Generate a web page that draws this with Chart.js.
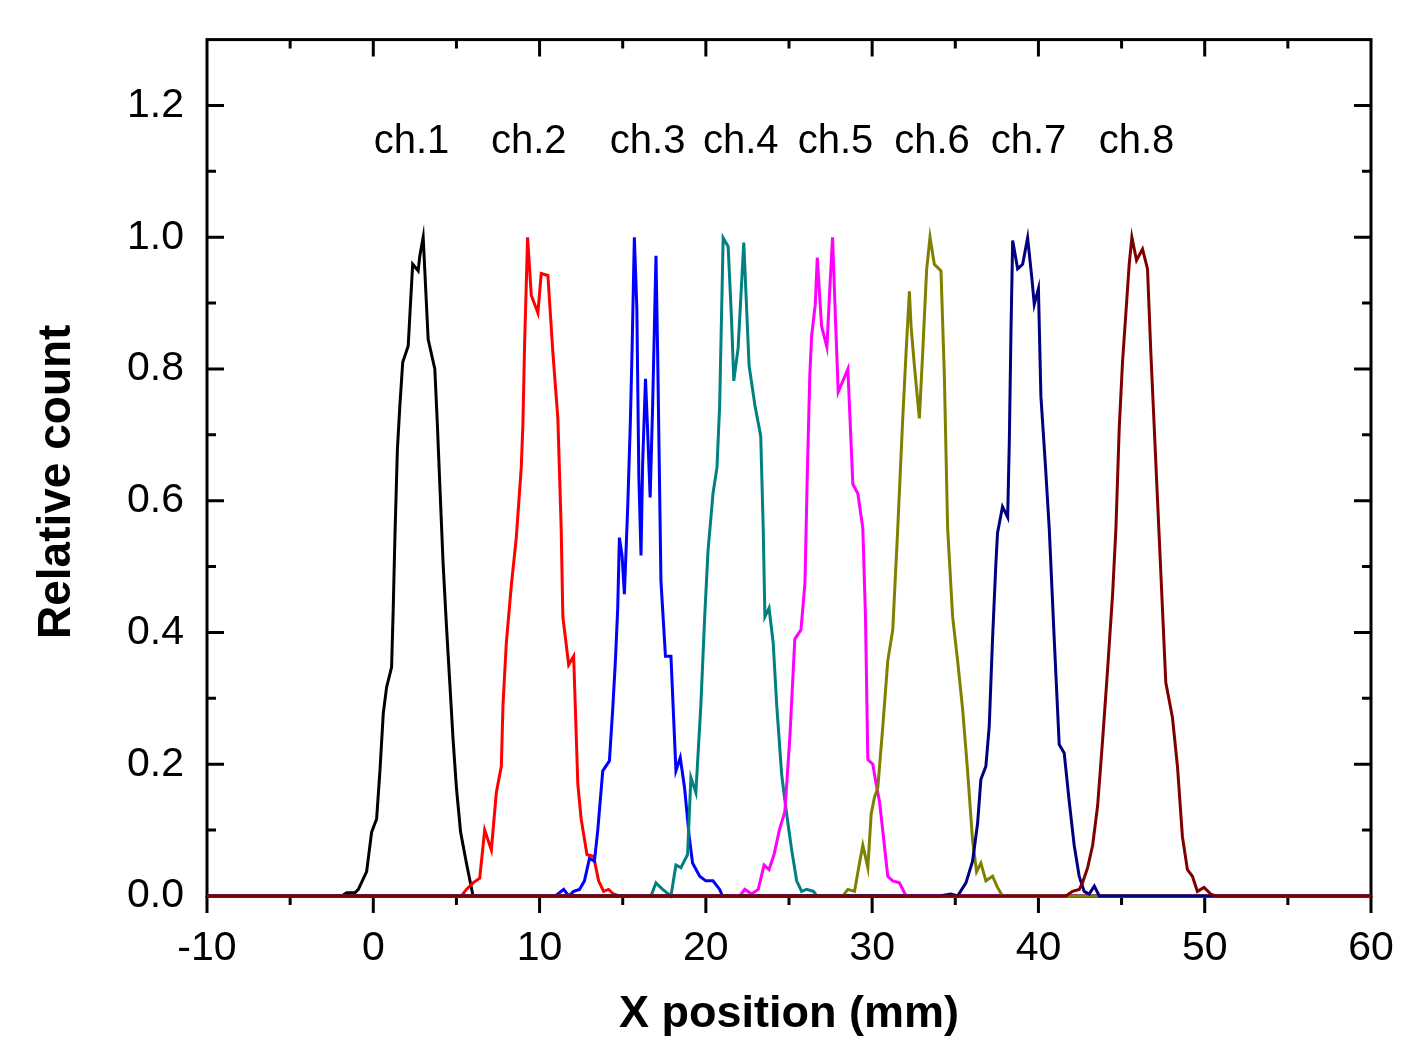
<!DOCTYPE html>
<html>
<head>
<meta charset="utf-8">
<script src="https://cdn.jsdelivr.net/npm/chart.js@4.4.1/dist/chart.umd.min.js"></script>
<style>
  html, body { margin: 0; padding: 0; background: #fff; }
  #wrap { width: 1410px; height: 1044px; }
</style>
</head>
<body>
<div id="wrap"><canvas id="profileChart" width="1410" height="1044"></canvas></div>
<script>
// --- channel profiles (x in mm, relative count) ---
const ch1X = [-10, -1.9, -1.6, -1.1, -0.9, -0.4, -0.1, 0.2, 0.4, 0.6, 0.8, 1.1, 1.2, 1.3, 1.45, 1.6, 1.77, 2.1, 2.25, 2.37, 2.7, 2.8, 3.0, 3.3, 3.7, 3.85, 4.0, 4.2, 4.4, 4.6, 4.8, 5.0, 5.25, 5.6, 6.0, 60];
const ch1Y = [0, 0, 0.005, 0.005, 0.01, 0.037, 0.097, 0.117, 0.19, 0.277, 0.317, 0.347, 0.437, 0.544, 0.678, 0.745, 0.81, 0.835, 0.905, 0.959, 0.949, 0.972, 1.0, 0.845, 0.80, 0.718, 0.625, 0.504, 0.41, 0.324, 0.237, 0.164, 0.097, 0.05, 0, 0];

const ch2X = [-10, 5.3, 5.6, 6.0, 6.4, 6.7, 7.1, 7.4, 7.7, 7.8, 8.0, 8.3, 8.6, 8.9, 9.0, 9.1, 9.28, 9.5, 9.9, 10.1, 10.5, 10.8, 11.1, 11.3, 11.4, 11.75, 12.05, 12.3, 12.5, 12.85, 13.25, 13.55, 13.85, 14.15, 14.45, 14.8, 60];
const ch2Y = [0, 0, 0.01, 0.02, 0.027, 0.1, 0.07, 0.157, 0.197, 0.29, 0.384, 0.471, 0.544, 0.651, 0.718, 0.838, 1.0, 0.912, 0.885, 0.945, 0.942, 0.825, 0.725, 0.558, 0.424, 0.351, 0.364, 0.17, 0.117, 0.063, 0.06, 0.023, 0.007, 0.01, 0.003, 0, 0];

const ch3X = [-10, 10.95, 11.45, 11.75, 12.05, 12.4, 12.7, 13.0, 13.3, 13.5, 13.8, 14.2, 14.4, 14.56, 14.7, 14.8, 14.96, 15.1, 15.3, 15.45, 15.56, 15.7, 15.85, 15.97, 16.1, 16.2, 16.37, 16.5, 16.65, 16.8, 17.0, 17.1, 17.3, 17.57, 17.9, 18.2, 18.46, 18.72, 19.0, 19.2, 19.63, 20.0, 20.43, 20.83, 21.0, 60];
const ch3Y = [0, 0, 0.01, 0, 0.007, 0.01, 0.023, 0.057, 0.053, 0.1, 0.19, 0.205, 0.284, 0.357, 0.437, 0.544, 0.517, 0.458, 0.59, 0.711, 0.825, 1.0, 0.892, 0.638, 0.517, 0.658, 0.785, 0.705, 0.605, 0.745, 0.972, 0.825, 0.478, 0.364, 0.364, 0.19, 0.21, 0.164, 0.09, 0.05, 0.03, 0.023, 0.023, 0.01, 0, 0];

const ch4X = [-10, 16.7, 17.0, 17.4, 17.9, 18.2, 18.5, 18.9, 19.1, 19.4, 19.7, 19.93, 20.13, 20.43, 20.67, 20.83, 21.04, 21.34, 21.54, 21.68, 21.94, 22.28, 22.6, 22.95, 23.3, 23.45, 23.55, 23.8, 24.05, 24.26, 24.56, 24.86, 25.16, 25.46, 25.76, 26.06, 26.47, 26.67, 60];
const ch4Y = [0, 0, 0.02, 0.01, 0, 0.047, 0.043, 0.063, 0.18, 0.157, 0.29, 0.424, 0.524, 0.611, 0.651, 0.745, 0.999, 0.986, 0.878, 0.782, 0.832, 0.992, 0.805, 0.745, 0.698, 0.558, 0.424, 0.437, 0.384, 0.29, 0.184, 0.124, 0.07, 0.023, 0.007, 0.01, 0.007, 0, 0];

const ch5X = [-10, 22.04, 22.34, 22.75, 23.15, 23.5, 23.8, 24.1, 24.42, 24.75, 25.05, 25.35, 25.72, 25.96, 26.1, 26.25, 26.36, 26.58, 26.7, 26.96, 27.28, 27.46, 27.62, 27.8, 27.96, 28.54, 28.84, 29.14, 29.44, 29.6, 29.74, 30.04, 30.24, 30.44, 30.68, 30.94, 31.24, 31.64, 32.04, 60];
const ch5Y = [0, 0, 0.01, 0.003, 0.01, 0.047, 0.04, 0.063, 0.1, 0.128, 0.24, 0.39, 0.404, 0.475, 0.64, 0.79, 0.85, 0.898, 0.969, 0.865, 0.833, 0.925, 1.0, 0.872, 0.765, 0.8, 0.625, 0.611, 0.558, 0.424, 0.207, 0.2, 0.17, 0.144, 0.09, 0.03, 0.023, 0.02, 0, 0];

const ch6X = [-10, 28.24, 28.54, 28.94, 29.24, 29.44, 29.74, 29.94, 30.14, 30.34, 30.64, 30.94, 31.24, 31.54, 31.84, 32.04, 32.24, 32.34, 32.54, 32.84, 33.04, 33.28, 33.48, 33.74, 34.14, 34.34, 34.54, 34.84, 35.14, 35.44, 35.74, 36.04, 36.28, 36.54, 36.84, 37.24, 37.54, 37.84, 60];
const ch6Y = [0, 0, 0.01, 0.007, 0.05, 0.077, 0.043, 0.124, 0.15, 0.164, 0.257, 0.357, 0.404, 0.558, 0.725, 0.825, 0.918, 0.865, 0.805, 0.725, 0.825, 0.952, 1.0, 0.959, 0.949, 0.792, 0.558, 0.424, 0.357, 0.284, 0.19, 0.084, 0.037, 0.05, 0.023, 0.03, 0.013, 0, 0];

const ch7X = [-10, 34.04, 34.74, 35.14, 35.64, 36.04, 36.34, 36.54, 36.84, 37.04, 37.24, 37.44, 37.54, 37.84, 38.15, 38.25, 38.35, 38.45, 38.75, 39.05, 39.35, 39.6, 39.75, 40.0, 40.15, 40.41, 40.65, 40.95, 41.25, 41.55, 41.85, 42.15, 42.45, 42.75, 43.05, 43.36, 43.66, 60];
const ch7Y = [0, 0, 0.003, 0, 0.02, 0.053, 0.11, 0.177, 0.197, 0.257, 0.39, 0.504, 0.551, 0.591, 0.575, 0.691, 0.858, 0.995, 0.952, 0.959, 0.999, 0.939, 0.898, 0.922, 0.758, 0.658, 0.558, 0.39, 0.23, 0.217, 0.144, 0.077, 0.03, 0.007, 0.003, 0.015, 0, 0];

const ch8X = [-10, 41.65, 42.05, 42.45, 42.65, 42.96, 43.26, 43.56, 43.86, 44.16, 44.46, 44.66, 44.86, 45.06, 45.26, 45.46, 45.62, 45.9, 46.26, 46.56, 46.76, 47.06, 47.36, 47.66, 48.06, 48.36, 48.66, 48.96, 49.26, 49.56, 49.96, 50.36, 50.66, 60];
const ch8Y = [0, 0, 0.007, 0.01, 0.02, 0.043, 0.077, 0.137, 0.237, 0.344, 0.458, 0.558, 0.711, 0.812, 0.885, 0.959, 1.0, 0.965, 0.982, 0.952, 0.825, 0.658, 0.491, 0.324, 0.271, 0.197, 0.09, 0.04, 0.03, 0.007, 0.013, 0.003, 0, 0];

const channelNames = ['ch.1', 'ch.2', 'ch.3', 'ch.4', 'ch.5', 'ch.6', 'ch.7', 'ch.8'];
const channelColors = ['#000000', '#ff0000', '#0000ff', '#008080', '#ff00ff', '#808000', '#000080', '#800000'];
// where the channel names sit, in data units
const nameX = [2.3, 9.35, 16.5, 22.1, 27.8, 33.6, 39.4, 45.9];
const nameY = 1.145;

const xTitle = 'X position (mm)';
const yTitle = 'Relative count';

const allX = [ch1X, ch2X, ch3X, ch4X, ch5X, ch6X, ch7X, ch8X];
const allY = [ch1Y, ch2Y, ch3Y, ch4Y, ch5Y, ch6Y, ch7Y, ch8Y];

const FONT = '"Liberation Sans", Arial, sans-serif';

// frame + ticks: inward on left/top/right, outward on the bottom axis
const framePlugin = {
    id: 'frame',
    beforeDatasetsDraw(chart) {
        const { ctx, chartArea: a, scales } = chart;
        ctx.save();
        ctx.strokeStyle = '#000';
        ctx.lineWidth = 3;
        ctx.strokeRect(a.left, a.top, a.right - a.left, a.bottom - a.top);
        ctx.beginPath();
        scales.x.ticks.forEach(t => {
            const px = scales.x.getPixelForValue(t.value);
            const len = Math.round(t.value) % 10 === 0 ? 17 : 9;
            ctx.moveTo(px, a.bottom); ctx.lineTo(px, a.bottom + len);
            if (Math.abs(px - a.left) < 2 || Math.abs(px - a.right) < 2) return;
            ctx.moveTo(px, a.top); ctx.lineTo(px, a.top + len);
        });
        scales.y.ticks.forEach(t => {
            const py = scales.y.getPixelForValue(t.value);
            if (Math.abs(py - a.top) < 2 || Math.abs(py - a.bottom) < 2) return;
            const len = Math.round(t.value * 10) % 2 === 0 ? 17 : 9;
            ctx.moveTo(a.left, py); ctx.lineTo(a.left + len, py);
            ctx.moveTo(a.right, py); ctx.lineTo(a.right - len, py);
        });
        ctx.stroke();
        ctx.restore();
    },
    afterDatasetsDraw(chart) {
        const { ctx, scales, chartArea: a } = chart;
        ctx.save();
        ctx.fillStyle = '#000';
        ctx.font = '40px ' + FONT;
        ctx.textAlign = 'center';
        ctx.textBaseline = 'middle';
        channelNames.forEach((name, i) => {
            ctx.fillText(name, scales.x.getPixelForValue(nameX[i]), scales.y.getPixelForValue(nameY));
        });
        // y axis title, sits a bit below the middle of the axis in the original
        ctx.font = 'bold 46px ' + FONT;
        ctx.textBaseline = 'alphabetic';
        ctx.translate(70, (a.top + a.bottom) / 2 + 14);
        ctx.rotate(-Math.PI / 2);
        ctx.fillText(yTitle, 0, 0);
        ctx.restore();
    }
};

const datasets = channelNames.map((name, i) => ({
    label: name,
    data: allX[i].map((x, k) => ({ x: x, y: allY[i][k] })),
    borderColor: channelColors[i],
    borderWidth: 3,
    pointRadius: 0,
    tension: 0,
    fill: false,
    clip: false,
    order: channelNames.length - i
}));

new Chart(document.getElementById('profileChart'), {
    type: 'line',
    data: { datasets: datasets },
    options: {
        responsive: false,
        animation: false,
        layout: { padding: { top: 30, right: 39, left: 0, bottom: 0 } },
        plugins: { legend: { display: false }, tooltip: { enabled: false } },
        scales: {
            x: {
                type: 'linear',
                min: -10,
                max: 60,
                grid: { display: false },
                border: { display: false },
                afterFit: s => { s.height = 148; s.paddingLeft = 0; s.paddingRight = 0; },
                ticks: {
                    stepSize: 5,
                    autoSkip: false,
                    maxRotation: 0,
                    padding: 20,
                    color: '#000',
                    font: { family: FONT, size: 41 },
                    callback: v => (Math.round(v) % 10 === 0 ? String(Math.round(v)) : '')
                },
                title: {
                    display: true,
                    text: xTitle,
                    color: '#000',
                    font: { family: FONT, size: 45, weight: 'bold' },
                    padding: { top: 0, bottom: 2 }
                }
            },
            y: {
                min: 0,
                max: 1.3,
                grid: { display: false },
                border: { display: false },
                afterFit: s => { s.width = 207; },
                ticks: {
                    stepSize: 0.1,
                    autoSkip: false,
                    padding: 15,
                    color: '#000',
                    font: { family: FONT, size: 41 },
                    callback: v => (Math.round(v * 10) % 2 === 0 ? (Math.round(v * 10) / 10).toFixed(1) : '')
                }
            }
        }
    },
    plugins: [framePlugin]
});
</script>
</body>
</html>
